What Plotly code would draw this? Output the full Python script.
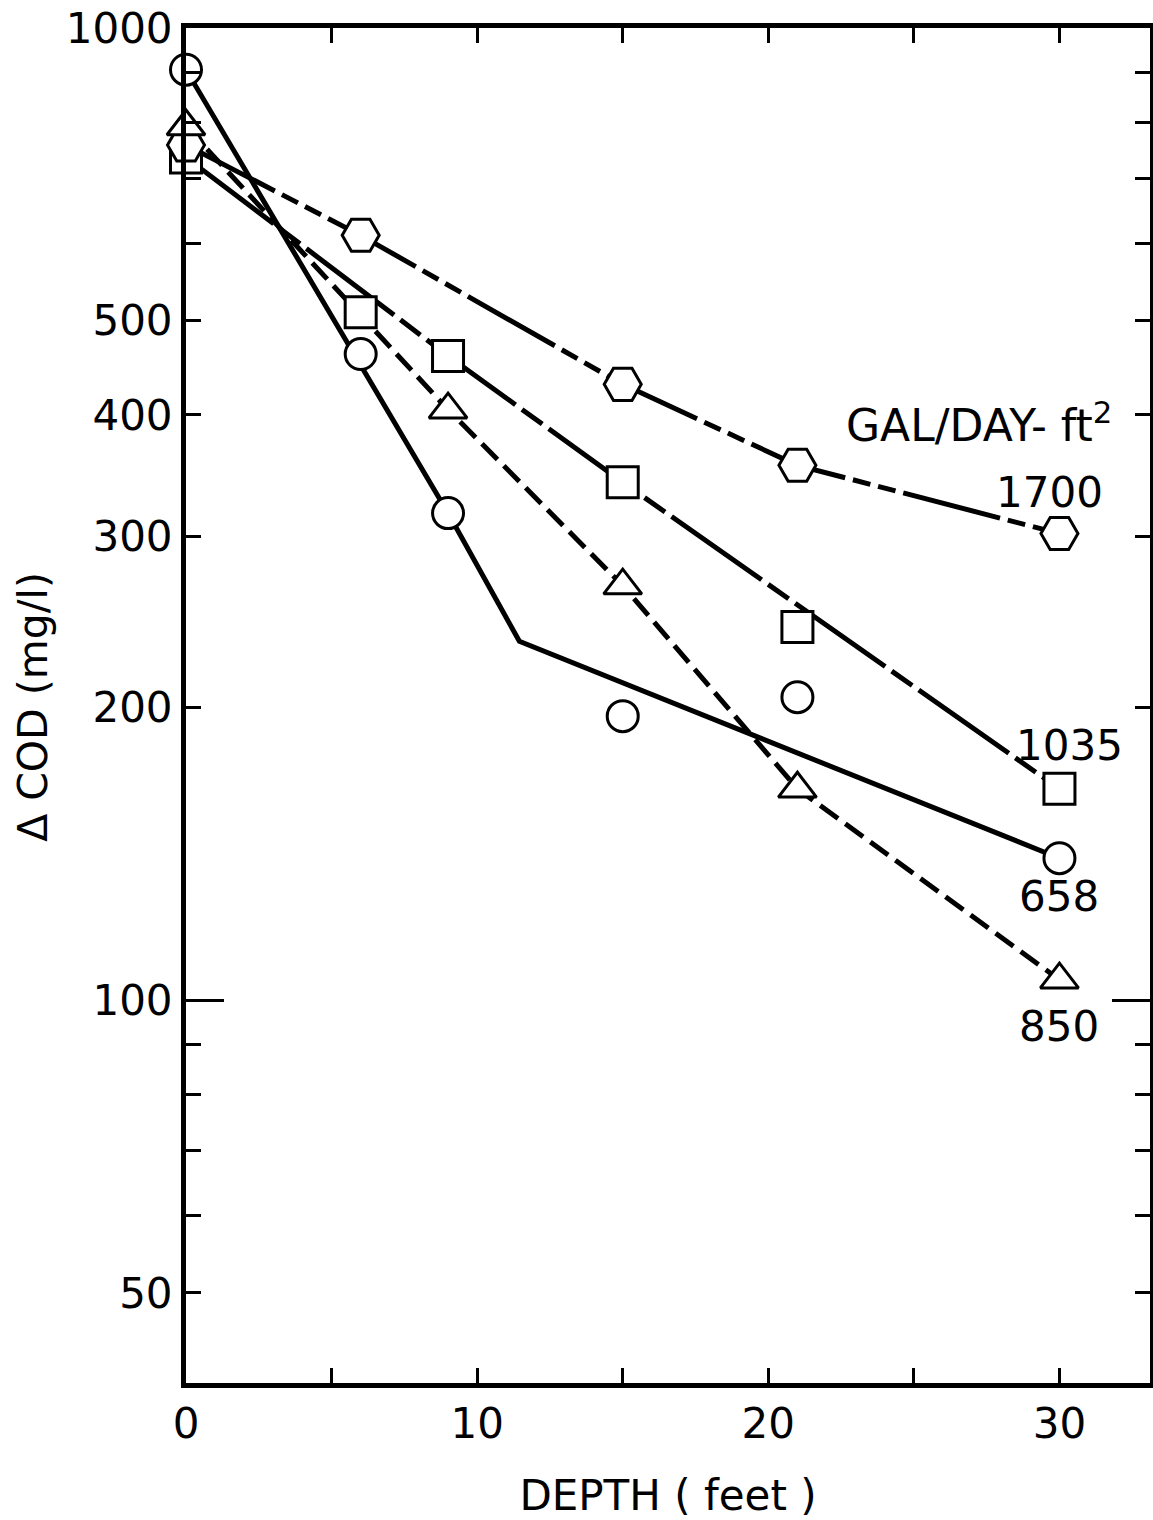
import math
import plotly.graph_objects as go

# ---- data ----
depth_hex = [0, 6, 15, 21, 30]
cod_1700 = [758, 612, 430, 355, 302]

depth_sq = [0, 6, 9, 15, 21, 30]
cod_1035 = [736, 510, 460, 341, 242, 165]
line_depth_1035 = [0, 9, 15, 30]
line_cod_1035 = [736, 460, 341, 165]

depth_circ = [0, 6, 9, 15, 21, 30]
cod_658 = [906, 462, 317, 196, 205, 140]
line_depth_658 = [0, 9, 11.45, 30]
line_cod_658 = [906, 317, 234, 140]

depth_tri = [0, 9, 15, 21, 30]
cod_850 = [792, 405, 267, 165, 105]

x_tickvals = [0, 10, 20, 30]
x_ticktext = ["0", "10", "20", "30"]
x_minorvals = [5, 15, 25]
y_tickvals = [50, 100, 200, 300, 400, 500, 1000]
y_ticktext = ["50", "100", "200", "300", "400", "500", "1000"]
y_minorvals = [60, 70, 80, 90, 600, 700, 800, 900]

labels = ["1700", "1035", "658", "850"]
label_pos_x = [29.66, 30.34, 30.0, 30.0]
label_pos_y = [333, 183, 128, 94]

FONT = "DejaVu Sans"
BLACK = "black"

fig = go.Figure()

# lines
fig.add_trace(go.Scatter(x=depth_hex, y=cod_1700, mode="lines",
                         line=dict(color=BLACK, width=5, dash="100px,8px,18px,8px,18px,8px"),
                         hoverinfo="skip", cliponaxis=False))
fig.add_trace(go.Scatter(x=line_depth_1035, y=line_cod_1035, mode="lines",
                         line=dict(color=BLACK, width=5, dash="110px,8px,25px,8px"),
                         hoverinfo="skip", cliponaxis=False))
fig.add_trace(go.Scatter(x=line_depth_658, y=line_cod_658, mode="lines",
                         line=dict(color=BLACK, width=5),
                         hoverinfo="skip", cliponaxis=False))
fig.add_trace(go.Scatter(x=depth_tri, y=cod_850, mode="lines",
                         line=dict(color=BLACK, width=5, dash="22px,9px"),
                         hoverinfo="skip", cliponaxis=False))

# markers
mk_line = dict(color=BLACK, width=3)
fig.add_trace(go.Scatter(x=depth_sq, y=cod_1035, mode="markers", name="1035",
                         marker=dict(symbol="square", size=31, color="white", line=mk_line),
                         cliponaxis=False))
fig.add_trace(go.Scatter(x=depth_hex, y=cod_1700, mode="markers", name="1700",
                         marker=dict(symbol="hexagon2", size=37, color="white", line=mk_line),
                         cliponaxis=False))
fig.add_trace(go.Scatter(x=depth_tri, y=cod_850, mode="markers", name="850",
                         marker=dict(symbol="triangle-up", size=33, color="white", line=mk_line),
                         cliponaxis=False))
fig.add_trace(go.Scatter(x=depth_circ, y=cod_658, mode="markers", name="658",
                         marker=dict(symbol="circle", size=31, color="white", line=mk_line),
                         cliponaxis=False))

# dummy trace on yaxis2 for the long 100 tick
fig.add_trace(go.Scatter(x=[None], y=[None], yaxis="y2", showlegend=False, hoverinfo="skip"))

y_lo = 40.4
y_hi = 1000

fig.update_layout(
    width=1159, height=1520,
    margin=dict(l=186, r=4, t=26, b=135),
    paper_bgcolor="white", plot_bgcolor="white",
    showlegend=False,
    font=dict(family=FONT, color=BLACK, size=42),
    xaxis=dict(range=[0, 33.11], showgrid=False, zeroline=False,
               showline=True, linecolor=BLACK, linewidth=5, mirror="ticks",
               ticks="inside", ticklen=15, tickwidth=3, tickcolor=BLACK,
               tickvals=x_tickvals, ticktext=x_ticktext,
               minor=dict(tickvals=x_minorvals, ticks="inside", ticklen=15,
                          tickwidth=3, tickcolor=BLACK, showgrid=False),
               tickfont=dict(size=42, family=FONT), ticklabeloverflow="allow",
               title=dict(text="DEPTH ( feet )", font=dict(size=42, family=FONT), standoff=38)),
    yaxis=dict(type="log", range=[math.log10(y_lo), math.log10(y_hi)],
               showgrid=False, zeroline=False,
               showline=True, linecolor=BLACK, linewidth=5, mirror="ticks",
               ticks="inside", ticklen=15, tickwidth=3, tickcolor=BLACK,
               tickvals=y_tickvals, ticktext=y_ticktext,
               tickfont=dict(size=42, family=FONT), ticklabeloverflow="allow",
               minor=dict(tickvals=y_minorvals, ticks="inside", ticklen=15,
                          tickwidth=3, tickcolor=BLACK, showgrid=False)),
    yaxis2=dict(type="log", range=[math.log10(y_lo), math.log10(y_hi)],
                overlaying="y", anchor="x", side="left",
                showgrid=False, zeroline=False, showline=False, mirror="ticks",
                ticks="inside", ticklen=38, tickwidth=3, tickcolor=BLACK,
                tickvals=[100], showticklabels=False),
)

# y-axis title
fig.add_annotation(x=0, y=0.499, xref="paper", yref="paper", xshift=-153,
                   text="Δ COD (mg/l)", textangle=-90, showarrow=False,
                   xanchor="center", yanchor="middle",
                   font=dict(size=41, family=FONT, color=BLACK))

fig.add_annotation(x=27.25, y=2.594, xref="x", yref="y",
                   text="GAL/DAY- ft<sup>2</sup>", showarrow=False,
                   font=dict(size=44, family=FONT, color=BLACK))
for t, lx, ly in zip(labels, label_pos_x, label_pos_y):
    fig.add_annotation(x=lx, y=math.log10(ly), xref="x", yref="y", text=t,
                       showarrow=False, font=dict(size=42, family=FONT, color=BLACK))

fig.write_html("out.html", config={"displayModeBar": False},
               post_script="document.body.style.margin='0';document.body.style.overflow='hidden';")
